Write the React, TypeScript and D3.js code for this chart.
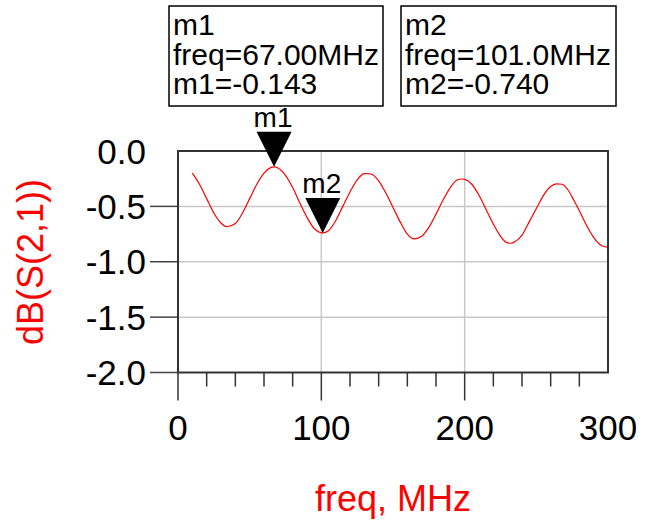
import * as d3 from "d3";

// S21 trace
const freqMHz = [10, 15, 20, 25, 30, 34, 40, 45, 50, 55, 60, 65, 67, 70, 75, 80, 85, 90, 95, 100, 101, 105, 110, 115, 120, 125, 130, 132, 135, 140, 145, 150, 155, 160, 165, 170, 175, 180, 185, 190, 195, 198, 200, 205, 210, 215, 220, 225, 230, 232, 235, 240, 245, 250, 255, 260, 264, 268, 272, 276, 280, 285, 290, 295, 300];
const s21dB = [-0.2, -0.3, -0.43, -0.56, -0.65, -0.684, -0.655, -0.56, -0.43, -0.3, -0.2, -0.148, -0.143, -0.155, -0.22, -0.33, -0.47, -0.6, -0.7, -0.739, -0.74, -0.72, -0.63, -0.5, -0.37, -0.26, -0.205, -0.203, -0.21, -0.27, -0.38, -0.51, -0.64, -0.75, -0.793, -0.77, -0.69, -0.57, -0.44, -0.33, -0.26, -0.253, -0.256, -0.3, -0.4, -0.53, -0.66, -0.77, -0.83, -0.833, -0.82, -0.76, -0.64, -0.52, -0.4, -0.32, -0.296, -0.3, -0.35, -0.44, -0.54, -0.67, -0.78, -0.85, -0.87];

const xTicks = [0, 100, 200, 300];
const xMinor = [20, 40, 60, 80, 120, 140, 160, 180, 220, 240, 260, 280];
const yTicks = [0, -0.5, -1.0, -1.5, -2.0];

const markers = [
  { name: "m1", freq: 67.0, value: -0.143, freqText: "67.00MHz", valText: "-0.143" },
  { name: "m2", freq: 101.0, value: -0.74, freqText: "101.0MHz", valText: "-0.740" },
];

const W = 647;
const H = 521;
const margin = { left: 178, right: 39, top: 151, bottom: 148.5 };
const font = "'Liberation Sans', Arial, sans-serif";

export default function App() {
  const x = d3.scaleLinear().domain([0, 300]).range([margin.left, W - margin.right]);
  const y = d3.scaleLinear().domain([-2, 0]).range([H - margin.bottom, margin.top]);

  const pts = freqMHz.map((f, i) => [f, s21dB[i]] as [number, number]);
  const line = d3
    .line<[number, number]>()
    .x((d) => x(d[0]))
    .y((d) => y(d[1]))
    .curve(d3.curveMonotoneX);

  const x0 = x(0), x1 = x(300), y0 = y(0), y1 = y(-2);
  const tri = 35;

  // readout boxes
  const boxes = [
    { left: 169, right: 383 },
    { left: 401, right: 616 },
  ];

  return (
    <svg width={W} height={H} style={{ position: "absolute", left: 0, top: 0 }} fontFamily={font}>
      <rect width={W} height={H} fill="#fff" />

      {/* grid */}
      {xTicks.slice(1, -1).map((t) => (
        <line key={"gx" + t} x1={x(t)} x2={x(t)} y1={y0} y2={y1} stroke="#c8c8c8" strokeWidth={1.5} />
      ))}
      {yTicks.slice(1, -1).map((t) => (
        <line key={"gy" + t} x1={x0} x2={x1} y1={y(t)} y2={y(t)} stroke="#c8c8c8" strokeWidth={1.5} />
      ))}

      {/* ticks */}
      {yTicks.slice(1).map((t) => (
        <line key={"ty" + t} x1={x0 - 28} x2={x0} y1={y(t)} y2={y(t)} stroke="#444" strokeWidth={1.5} />
      ))}
      {xTicks.slice(0, -1).map((t) => (
        <line key={"tx" + t} x1={x(t)} x2={x(t)} y1={y1} y2={y1 + 28} stroke="#333" strokeWidth={1.5} />
      ))}
      {xMinor.map((t) => (
        <line key={"tm" + t} x1={x(t)} x2={x(t)} y1={y1} y2={y1 + 14} stroke="#333" strokeWidth={1.5} />
      ))}

      {/* trace */}
      <path d={line(pts) ?? ""} fill="none" stroke="#ff0000" strokeWidth={1.2} />

      {/* frame */}
      <rect x={x0} y={y0} width={x1 - x0} height={y1 - y0} fill="none" stroke="#333" strokeWidth={2} />

      {/* tick labels */}
      {yTicks.map((t) => (
        <text key={"ly" + t} x={146} y={y(t)} dy="0.36em" textAnchor="end" fontSize={35} fill="#000">
          {t.toFixed(1)}
        </text>
      ))}
      {xTicks.map((t) => (
        <text key={"lx" + t} x={x(t)} y={440} textAnchor="middle" fontSize={35} fill="#000">
          {t}
        </text>
      ))}

      {/* axis titles */}
      <text x={393} y={511} textAnchor="middle" fontSize={36} fill="#ff0000">freq, MHz</text>
      <text transform={`translate(43,${262}) rotate(-90)`} textAnchor="middle" fontSize={36} fill="#ff0000">
        dB(S(2,1))
      </text>

      {/* markers */}
      {markers.map((m) => {
        const mx = x(m.freq);
        const my = y(m.value);
        return (
          <g key={m.name}>
            <path d={`M${mx},${my} L${mx - tri / 2},${my - tri} L${mx + tri / 2},${my - tri} Z`} fill="#000" />
            <text x={mx - 1} y={my - tri - 5} textAnchor="middle" fontSize={28} fill="#000">
              {m.name}
            </text>
          </g>
        );
      })}

      {/* readouts */}
      {markers.map((m, i) => (
        <g key={"box" + m.name}>
          <rect x={boxes[i].left} y={6} width={boxes[i].right - boxes[i].left} height={100} fill="#fff" stroke="#000" strokeWidth={1.5} />
          <text x={boxes[i].left + 4} fontSize={30} fill="#000">
            <tspan x={boxes[i].left + 4} y={35}>{m.name}</tspan>
            <tspan x={boxes[i].left + 4} y={65}>{"freq=" + m.freqText}</tspan>
            <tspan x={boxes[i].left + 4} y={94}>{m.name + "=" + m.valText}</tspan>
          </text>
        </g>
      ))}
    </svg>
  );
}
